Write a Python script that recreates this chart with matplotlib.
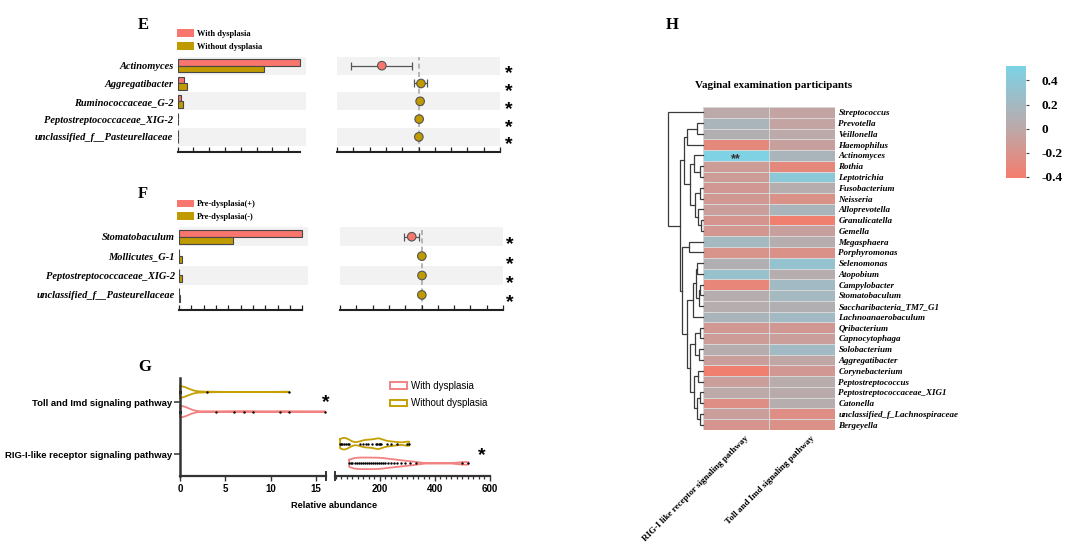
import numpy as np
import matplotlib
matplotlib.use('Agg')
import matplotlib.pyplot as plt
import matplotlib.transforms as mtransforms
from matplotlib.colors import LinearSegmentedColormap
from matplotlib.patches import Patch

W, H = 1080, 557
SERIF = ['Liberation Serif', 'DejaVu Serif']
SANS = ['Liberation Sans', 'DejaVu Sans']

RED = '#F8766D'
OLIVE = '#BF9B00'
VRED = '#F28282'
VOLIVE = '#C4A000'
BAND = '#F2F2F2'
EDGE = '#474747'

# ---------------- Panel E data ----------------
e_taxa = ['Actinomyces', 'Aggregatibacter', 'Ruminococcaceae_G-2',
          'Peptostreptococcaceae_XIG-2', 'unclassified_f__Pasteurellaceae']
e_with = [7.75, 0.42, 0.20, 0.03, 0.02]
e_without = [5.50, 0.59, 0.34, 0.03, 0.02]
e_diff = [-2.25, 0.15, 0.10, 0.04, 0.02]
e_lo = [-4.15, -0.30, -0.05, -0.03, -0.04]
e_hi = [-0.40, 0.55, 0.22, 0.10, 0.07]
e_legend = ['With dysplasia', 'Without dysplasia']

# ---------------- Panel F data ----------------
f_taxa = ['Stomatobaculum', 'Mollicutes_G-1', 'Peptostreptococcaceae_XIG-2',
          'unclassified_f__Pasteurellaceae']
f_with = [10.0, 0.0, 0.0, 0.0]
f_without = [4.4, 0.24, 0.22, 0.06]
f_diff = [-0.60, 0.02, 0.03, 0.02]
f_lo = [-1.05, -0.05, -0.05, -0.03]
f_hi = [-0.15, 0.10, 0.10, 0.07]
f_legend = ['Pre-dysplasia(+)', 'Pre-dysplasia(-)']

# ---------------- Panel G data ----------------
g_pathways = ['Toll and Imd signaling pathway', 'RIG-I-like receptor signaling pathway']
g_legend = ['With dysplasia', 'Without dysplasia']
g_toll_with = [0, 0, 0, 0, 0, 0, 0, 0, 0, 0, 0, 0, 0, 0, 0, 0, 0, 0, 0, 0, 0, 0,
               4, 6, 7, 8, 11, 12, 16]
g_toll_without = [0, 0, 0, 0, 0, 0, 0, 0, 0, 0, 0, 0, 0, 0, 0, 0, 0, 0, 0, 0,
                  3, 12]
g_rig_with = [88, 95, 100, 108, 115, 122, 130, 138, 145, 152, 160, 168, 175, 182,
              190, 198, 205, 212, 220, 230, 240, 250, 262, 275, 290, 310, 330, 497, 521]
g_rig_without = [55, 60, 63, 68, 75, 82, 88, 128, 140, 150, 158, 170, 185, 190, 195,
                 200, 205, 225, 240, 262, 300, 306]

# ---------------- Panel H data ----------------
h_taxa = ['Streptococcus', 'Prevotella', 'Veillonella', 'Haemophilus', 'Actinomyces',
          'Rothia', 'Leptotrichia', 'Fusobacterium', 'Neisseria', 'Alloprevotella',
          'Granulicatella', 'Gemella', 'Megasphaera', 'Porphyromonas', 'Selenomonas',
          'Atopobium', 'Campylobacter', 'Stomatobaculum', 'Saccharibacteria_TM7_G1',
          'Lachnoanaerobaculum', 'Qribacterium', 'Capnocytophaga', 'Solobacterium',
          'Aggregatibacter', 'Corynebacterium', 'Peptostreptococcus',
          'Peptostreptococcaceae_XIG1', 'Catonella', 'unclassified_f_Lachnospiraceae',
          'Bergeyella']
h_cols = ['RIG-I like receptor signaling pathway', 'Toll and Imd signaling pathway']
h_rig = [0.00, 0.15, 0.08, -0.30, 0.50, -0.12, -0.12, -0.15, -0.15, -0.10,
         -0.18, -0.17, 0.20, -0.20, 0.08, 0.30, -0.32, 0.05, 0.05, 0.15,
         -0.15, -0.12, 0.05, -0.10, -0.38, -0.10, 0.00, -0.25, -0.10, -0.18]
h_toll = [-0.05, -0.05, 0.00, -0.08, 0.15, -0.30, 0.40, 0.05, -0.22, 0.15,
          -0.38, -0.08, 0.05, -0.22, 0.32, 0.05, 0.22, 0.20, 0.08, 0.22,
          -0.15, -0.10, 0.22, -0.02, -0.15, 0.03, 0.02, 0.05, -0.25, -0.22]
h_signif = {'Actinomyces': '**'}
h_ticks = [0.4, 0.2, 0, -0.2, -0.4]
h_ticklabels = ['0.4', '0.2', '0', '-0.2', '-0.4']
# row dendrogram: (left, right, height)
h_tree = ('Streptococcus',
          (((('Prevotella', 'Veillonella', 0.18), 'Haemophilus', 0.45),
            (('Actinomyces', ('Rothia', 'Leptotrichia', 0.10), 0.26),
             (('Fusobacterium', 'Neisseria', 0.10),
              ('Alloprevotella', ('Granulicatella', 'Gemella', 0.06), 0.14), 0.22), 0.36), 0.53),
           (('Megasphaera', 'Porphyromonas', 0.40),
            (((('Selenomonas', 'Atopobium', 0.16),
               (('Campylobacter', 'Stomatobaculum', 0.08), 'Saccharibacteria_TM7_G1', 0.12), 0.20),
              'Lachnoanaerobaculum', 0.30),
             ((('Qribacterium', 'Capnocytophaga', 0.10), ('Solobacterium', 'Aggregatibacter', 0.12), 0.22),
              (('Corynebacterium', 'Peptostreptococcus', 0.14),
               (('Peptostreptococcaceae_XIG1', 'Catonella', 0.10),
                ('unclassified_f_Lachnospiraceae', 'Bergeyella', 0.08), 0.16), 0.25), 0.36), 0.47), 0.60),
           0.66),
          1.0)

fig = plt.figure(figsize=(W / 100, H / 100), dpi=100)


def px_axes(x0, y0, x1, y1):
    return fig.add_axes([x0 / W, 1 - y1 / H, (x1 - x0) / W, (y1 - y0) / H])


def ftext(x, y, s, **kw):
    fig.text(x / W, 1 - y / H, s, **kw)


def star(ax, xa, yd, size=14, dy=0.0):
    tr = mtransforms.blended_transform_factory(ax.transAxes, ax.transData) + \
        mtransforms.ScaledTranslation(0, (-0.58 * size + dy) / 72, fig.dpi_scale_trans)
    ax.text(xa, yd, '*', transform=tr, ha='center', va='baseline', fontsize=size,
            fontweight='bold', family=SANS, clip_on=False)


def bar_panel(box, taxa, vw, vwo, xmax, bound, ymax, ticks):
    ax = px_axes(*box)
    n = len(taxa)
    y = np.arange(n)
    for i in range(0, n, 2):
        ax.axhspan(i - 0.5, i + 0.5, color=BAND, lw=0, zorder=0)
    ax.barh(y - 0.18, vw, height=0.36, color=RED, edgecolor=EDGE, lw=0.8, zorder=2)
    ax.barh(y + 0.18, vwo, height=0.36, color=OLIVE, edgecolor=EDGE, lw=0.8, zorder=2)
    ax.set_xlim(0, xmax)
    ax.set_ylim(ymax, -0.5)
    for s in ('top', 'right', 'left'):
        ax.spines[s].set_visible(False)
    ax.spines['bottom'].set_bounds(0, bound)
    ax.spines['bottom'].set_linewidth(1.5)
    ax.spines['bottom'].set_color('#222222')
    ax.set_xticks(ticks)
    ax.set_xticklabels([])
    ax.tick_params(axis='x', direction='in', length=3.5, width=0.9, color='#222222')
    ax.set_yticks(y)
    ax.set_yticklabels(taxa, family=SERIF, fontweight='bold', fontstyle='italic', fontsize=7.5)
    ax.tick_params(axis='y', length=0, pad=3)
    return ax


def forest_panel(box, diff, lo, hi, ymax, starx):
    ax = px_axes(*box)
    n = len(diff)
    y = np.arange(n)
    for i in range(0, n, 2):
        ax.axhspan(i - 0.5, i + 0.5, color=BAND, lw=0, zorder=0)
    ax.axvline(0, color='#AAAAAA', ls=(0, (3, 2)), lw=1.2, zorder=1)
    d = np.array(diff)
    ax.errorbar(d, y, xerr=[d - np.array(lo), np.array(hi) - d], fmt='none',
                ecolor='#555555', elinewidth=0.9, capsize=3, capthick=0.9, zorder=2)
    cols = [RED if v < -0.3 else OLIVE for v in diff]
    ax.scatter(d, y, s=38, c=cols, edgecolors='#555555', linewidths=0.8, zorder=3)
    ax.set_xlim(-5, 5)
    ax.set_ylim(ymax, -0.5)
    for s in ('top', 'right', 'left'):
        ax.spines[s].set_visible(False)
    ax.spines['bottom'].set_linewidth(1.5)
    ax.spines['bottom'].set_color('#222222')
    ax.set_xticks(np.arange(-5, 6))
    ax.set_xticklabels([])
    ax.tick_params(axis='x', direction='in', length=3.5, width=0.9, color='#222222')
    ax.set_yticks([])
    for i in y:
        star(ax, starx, i, dy=-1.0)
    return ax


# ---------------- Panel E ----------------
ftext(143, 25, 'E', ha='center', va='center', fontsize=12, fontweight='bold', family=SERIF)
bar_panel((177.5, 56.8, 306, 152), e_taxa, e_with, e_without, 8.13, 7.75, 4.85, np.arange(0, 8))
forest_panel((337, 56.8, 500, 152), e_diff, e_lo, e_hi, 4.85, 1.055)
legE = fig.legend([Patch(facecolor=RED, edgecolor='none'), Patch(facecolor=OLIVE, edgecolor='none')],
                  e_legend, loc='upper left', bbox_to_anchor=(177.3 / W, 1 - 29 / H),
                  frameon=False, prop=dict(family=SERIF, weight='bold', size=6),
                  handlelength=2.05, handleheight=1.05, handletextpad=0.35,
                  labelspacing=0.5, borderpad=0, borderaxespad=0)

# ---------------- Panel F ----------------
ftext(143, 194, 'F', ha='center', va='center', fontsize=12, fontweight='bold', family=SERIF)
bar_panel((179, 227, 308, 310), f_taxa, f_with, f_without, 10.45, 10, 3.78, np.arange(0, 11))
forest_panel((340, 227, 503, 310), f_diff, f_lo, f_hi, 3.78, 1.043)
legF = fig.legend([Patch(facecolor=RED, edgecolor='none'), Patch(facecolor=OLIVE, edgecolor='none')],
                  f_legend, loc='upper left', bbox_to_anchor=(177.3 / W, 1 - 199.5 / H),
                  frameon=False, prop=dict(family=SERIF, weight='bold', size=6),
                  handlelength=2.05, handleheight=1.05, handletextpad=0.35,
                  labelspacing=0.45, borderpad=0, borderaxespad=0)

# ---------------- Panel G ----------------
ftext(145, 367, 'G', ha='center', va='center', fontsize=12, fontweight='bold', family=SERIF)
axG1 = px_axes(180, 378, 325.7, 476)
axG2 = px_axes(335, 378, 490, 476)
YLIM = (-0.425, 1.47)


def violin(ax, data, y0, color, bw, hw=0.112):
    d = np.asarray(data, float)
    grid = np.linspace(d.min(), d.max(), 400)
    dens = np.exp(-0.5 * ((grid[:, None] - d[None, :]) / bw) ** 2).sum(axis=1)
    w = dens / dens.max() * hw
    ax.fill_between(grid, y0 - w, y0 + w, facecolor='white', edgecolor='none', zorder=2,
                    clip_on=False)
    xs = np.concatenate([grid, grid[::-1], grid[:1]])
    ys = np.concatenate([y0 + w, (y0 - w)[::-1], [y0 + w[0]]])
    ax.plot(xs, ys, color=color, lw=1.3, zorder=3, clip_on=False, solid_joinstyle='round')
    ax.scatter(d, np.full(len(d), y0), s=3, color='black', zorder=4, linewidths=0, clip_on=False)


violin(axG1, g_toll_without, 1.2, VOLIVE, 0.9)
violin(axG1, g_toll_with, 0.82, VRED, 0.9)
violin(axG2, g_rig_without, 0.2, VOLIVE, 16)
violin(axG2, g_rig_with, -0.18, VRED, 22)

for ax in (axG1, axG2):
    ax.set_ylim(*YLIM)
    for s in ('top', 'right'):
        ax.spines[s].set_visible(False)
    ax.spines['bottom'].set_linewidth(1.6)
    ax.spines['bottom'].set_color('#333333')
    ax.tick_params(axis='x', direction='out', length=3.5, width=1.0, color='#333333', pad=2)
axG1.set_xlim(0, 16.05)
axG1.spines['left'].set_linewidth(1.8)
axG1.spines['left'].set_color('#333333')
axG1.spines['left'].set_zorder(5)
axG1.set_xticks([0, 5, 10, 15])
axG1.set_xticklabels(['0', '5', '10', '15'], family=SANS, fontweight='bold', fontsize=7)
axG1.set_yticks([1, 0])
axG1.set_yticklabels(g_pathways, family=SANS, fontweight='bold', fontsize=6.8)
axG1.tick_params(axis='y', direction='out', length=4.5, width=1.1, color='#333333', pad=1)
axG2.spines['left'].set_visible(False)
axG2.set_yticks([])
axG2.set_xlim(36.4, 600)
axG2.set_xticks([200, 400, 600])
axG2.set_xticklabels(['200', '400', '600'], family=SANS, fontweight='bold', fontsize=7)
axG2.set_xticks(np.arange(40, 601, 20), minor=True)
axG2.tick_params(axis='x', which='minor', direction='out', length=2.5, width=0.9, color='#333333')
axG1.plot([1, 1], [-0.04, 0.04], transform=axG1.transAxes, color='#333333', lw=1.4, clip_on=False)
axG2.plot([0, 0], [-0.04, 0.04], transform=axG2.transAxes, color='#333333', lw=1.4, clip_on=False)

star(axG1, 1.0, 1.12, size=14)
star(axG2, 0.945, 0.1, size=14)

ftext(334, 506, 'Relative abundance', ha='center', va='center', family=SANS,
      fontweight='bold', fontsize=6.6)

legG = fig.legend([Patch(facecolor='white', edgecolor=VRED, lw=1.4),
                   Patch(facecolor='white', edgecolor=VOLIVE, lw=1.4)],
                  g_legend, loc='upper left', bbox_to_anchor=(390 / W, 1 - 381 / H),
                  frameon=False, prop=dict(family=SANS, size=7),
                  handlelength=1.75, handleheight=0.6, handletextpad=0.4,
                  labelspacing=0.75, borderpad=0, borderaxespad=0)

# ---------------- Panel H ----------------
ftext(672, 25, 'H', ha='center', va='center', fontsize=12, fontweight='bold', family=SERIF)
ftext(774, 85, 'Vaginal examination participants', ha='center', va='center',
      fontsize=8, fontweight='bold', family=SERIF)

cmap = LinearSegmentedColormap.from_list(
    'hm', [(0.0, '#F47C6C'), (0.44, '#BCA9A9'), (1.0, '#7DD2E6')])
VMIN, VMAX = -0.41, 0.52
M = np.column_stack([h_rig, h_toll])
nrow = len(h_taxa)

axH = px_axes(703, 107, 835, 430)
mesh = axH.pcolormesh(np.arange(3), np.arange(nrow + 1), M, cmap=cmap, vmin=VMIN, vmax=VMAX,
                      edgecolors='#D6D6D6', linewidth=0.5)
axH.set_xlim(0, 2)
axH.set_ylim(nrow, 0)
for s in axH.spines.values():
    s.set_visible(False)
axH.set_xticks([])
axH.yaxis.tick_right()
axH.set_yticks(np.arange(nrow) + 0.5)
axH.set_yticklabels(h_taxa, family=SERIF, fontweight='bold', fontstyle='italic', fontsize=6.5)
axH.tick_params(axis='y', length=0, pad=2.5)
for name, mark in h_signif.items():
    r = h_taxa.index(name)
    tr = axH.transData + mtransforms.ScaledTranslation(0, -0.58 * 9 / 72 + 0.4 / 72, fig.dpi_scale_trans)
    axH.text(0.5, r + 0.5, mark, transform=tr, ha='center', va='baseline', fontsize=9,
             fontweight='bold', family=SANS, color='#333333')
for j, lab in enumerate(h_cols):
    tr = axH.transData + mtransforms.ScaledTranslation(8 / 100, -4 / 100, fig.dpi_scale_trans)
    axH.text(j + 0.5, nrow, lab, transform=tr, rotation=45, rotation_mode='anchor',
             ha='right', va='top', family=SERIF, fontweight='bold', fontsize=6.5)

# dendrogram
axD = px_axes(667, 107, 703, 430)
axD.set_xlim(1.03, 0)
axD.set_ylim(nrow, 0)
axD.axis('off')


def draw_tree(node):
    if isinstance(node, str):
        return h_taxa.index(node) + 0.5, 0.0
    l, r, h = node
    yl, hl = draw_tree(l)
    yr, hr = draw_tree(r)
    axD.plot([hl, h, h, hr], [yl, yl, yr, yr], color='#3A3A3A', lw=0.9,
             solid_joinstyle='miter', clip_on=False)
    return (yl + yr) / 2, h


draw_tree(h_tree)

cax = px_axes(1006, 66, 1026, 178)
cb = fig.colorbar(mesh, cax=cax)
cb.outline.set_visible(False)
cb.set_ticks(h_ticks)
cb.set_ticklabels(h_ticklabels)
cax.tick_params(length=2, width=0.8, color='#444444', pad=9)
for t in cax.get_yticklabels():
    t.set_family(SERIF)
    t.set_fontweight('bold')
    t.set_fontsize(9.5)

fig.savefig('out.png', dpi=100)
